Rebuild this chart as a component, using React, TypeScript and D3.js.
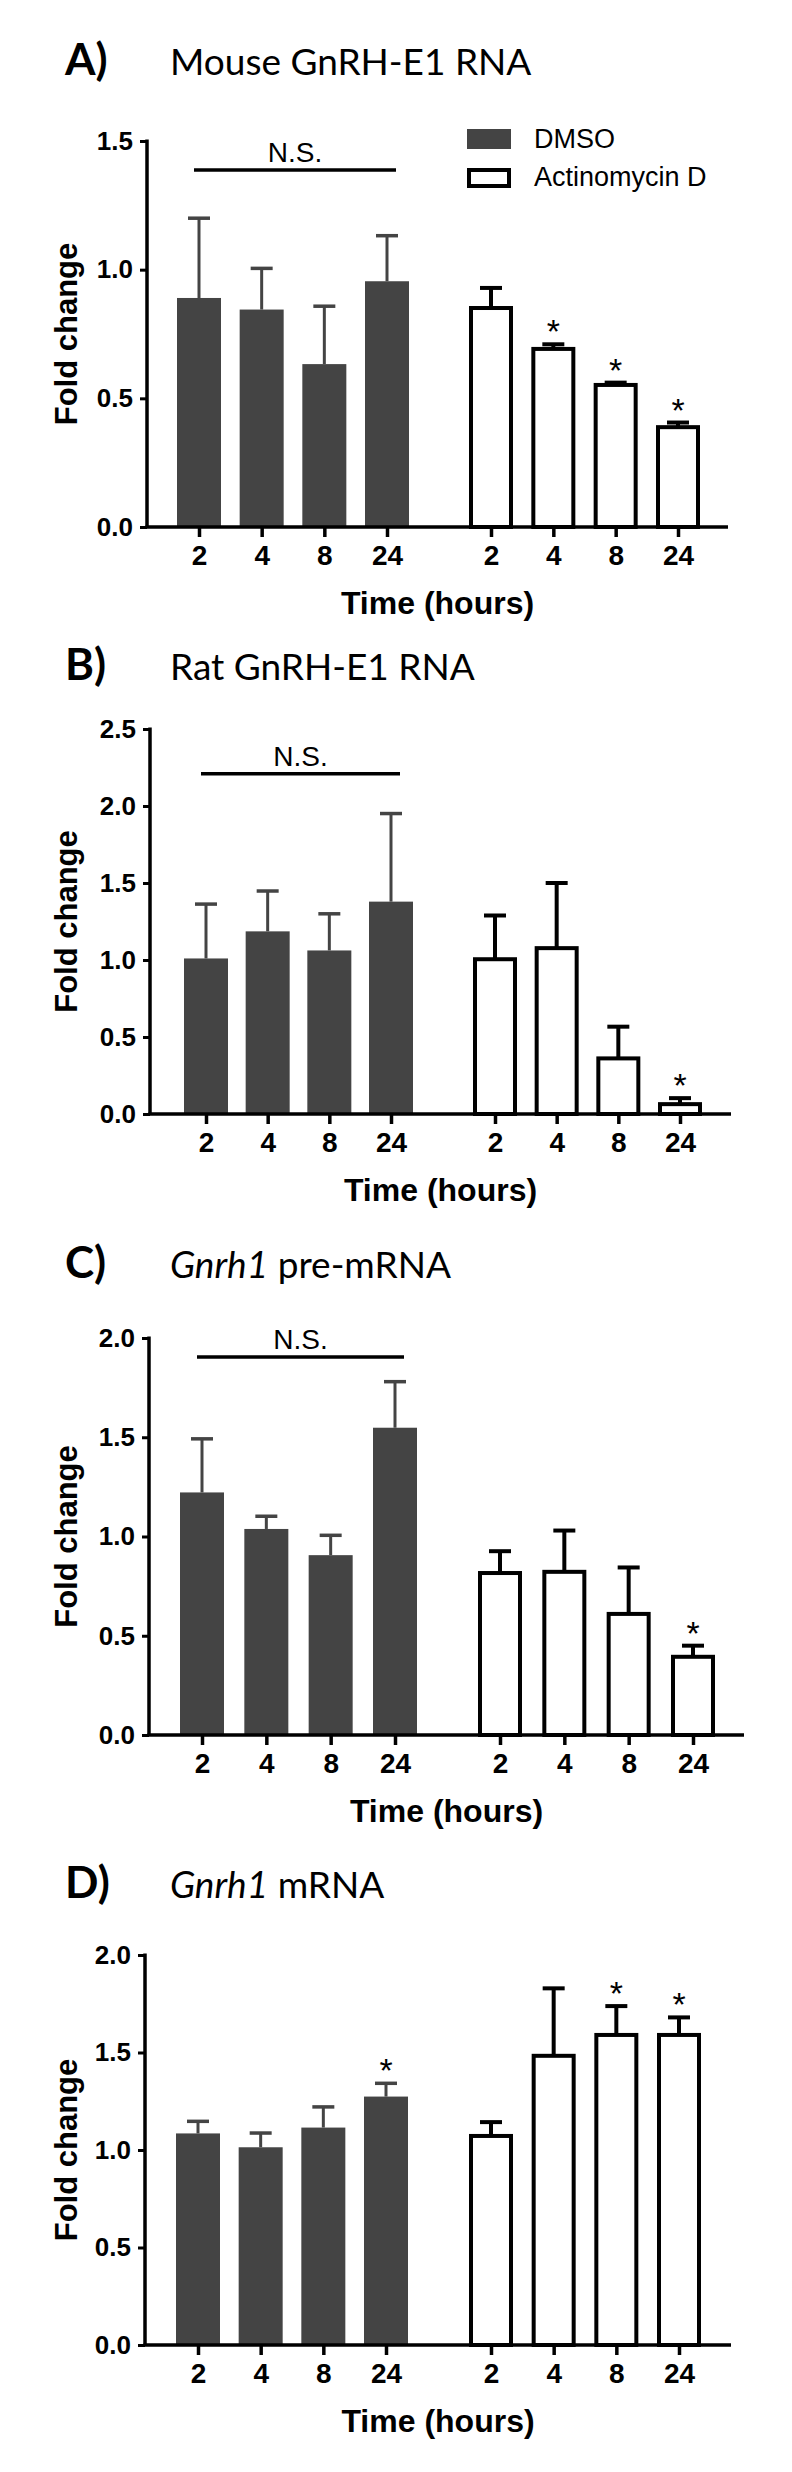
import React, { useEffect, useRef } from "react";
import * as d3 from "d3";

const times = ["2", "4", "8", "24"];

// panel A: Mouse GnRH-E1 RNA
const mouseDmso = [0.89, 0.845, 0.633, 0.955];
const mouseDmsoSem = [0.31, 0.16, 0.225, 0.177];
const mouseActd = [0.851, 0.692, 0.552, 0.388];
const mouseActdSem = [0.078, 0.018, 0.009, 0.018];

// panel B: Rat GnRH-E1 RNA
const ratDmso = [1.01, 1.186, 1.062, 1.379];
const ratDmsoSem = [0.353, 0.262, 0.238, 0.572];
const ratActd = [1.005, 1.077, 0.361, 0.064];
const ratActdSem = [0.284, 0.423, 0.206, 0.039];

// panel C: Gnrh1 pre-mRNA
const preDmso = [1.222, 1.038, 0.906, 1.548];
const preDmsoSem = [0.27, 0.064, 0.1, 0.232];
const preActd = [0.816, 0.822, 0.61, 0.394];
const preActdSem = [0.11, 0.208, 0.234, 0.056];

// panel D: Gnrh1 mRNA
const mDmso = [1.085, 1.014, 1.115, 1.274];
const mDmsoSem = [0.062, 0.073, 0.106, 0.068];
const mActd = [1.072, 1.483, 1.59, 1.59];
const mActdSem = [0.071, 0.346, 0.148, 0.09];

const ticksA = [0, 0.5, 1.0, 1.5];
const ticksB = [0, 0.5, 1.0, 1.5, 2.0, 2.5];
const ticksCD = [0, 0.5, 1.0, 1.5, 2.0];

const seriesNames = ["DMSO", "Actinomycin D"];

const panels = [
  {
    letter: "A)", titleItalic: "", titleRest: "Mouse GnRH-E1 RNA",
    dmso: mouseDmso, dmsoSem: mouseDmsoSem, actd: mouseActd, actdSem: mouseActdSem,
    ticks: ticksA, dmsoStars: [], actdStars: ["4", "8", "24"], ns: 1.387, legend: true,
    titleY: 75, top: 141, bottom: 527, axisX: 147, axisRight: 728,
    g1: [199, 387], g2: [491, 678],
  },
  {
    letter: "B)", titleItalic: "", titleRest: "Rat GnRH-E1 RNA",
    dmso: ratDmso, dmsoSem: ratDmsoSem, actd: ratActd, actdSem: ratActdSem,
    ticks: ticksB, dmsoStars: [], actdStars: ["24"], ns: 2.21, legend: false,
    titleY: 680, top: 729, bottom: 1114, axisX: 150, axisRight: 731,
    g1: [206, 391], g2: [495, 680],
  },
  {
    letter: "C)", titleItalic: "Gnrh1", titleRest: " pre-mRNA",
    dmso: preDmso, dmsoSem: preDmsoSem, actd: preActd, actdSem: preActdSem,
    ticks: ticksCD, dmsoStars: [], actdStars: ["24"], ns: 1.904, legend: false,
    titleY: 1278, top: 1338, bottom: 1735, axisX: 149, axisRight: 744,
    g1: [202, 395], g2: [500, 693],
  },
  {
    letter: "D)", titleItalic: "Gnrh1", titleRest: " mRNA",
    dmso: mDmso, dmsoSem: mDmsoSem, actd: mActd, actdSem: mActdSem,
    ticks: ticksCD, dmsoStars: ["24"], actdStars: ["8", "24"], ns: null, legend: false,
    titleY: 1898, top: 1955, bottom: 2345, axisX: 145, axisRight: 731,
    g1: [198, 386], g2: [491, 679],
  },
];

const GRAY = "#444444";
const AXIS_FONT = "'Liberation Sans', Arial, sans-serif";
const TITLE_FONT = "Lato, 'Open Sans', sans-serif";

const App = () => {
  const ref = useRef<SVGSVGElement>(null);

  useEffect(() => {
    const svg = d3.select(ref.current);
    svg.selectAll("*").remove();
    svg.append("rect").attr("width", 792).attr("height", 2472).attr("fill", "white");

    panels.forEach((p) => {
      const g = svg.append("g");
      const maxV = p.ticks[p.ticks.length - 1];
      const y = d3.scaleLinear().domain([0, maxV]).range([p.bottom, p.top]);
      const x1 = d3.scalePoint().domain(times).range(p.g1);
      const x2 = d3.scalePoint().domain(times).range(p.g2);
      const barW = 44;

      // panel letter and title
      g.append("text")
        .attr("x", 65).attr("y", p.titleY)
        .style("font-family", TITLE_FONT).style("font-weight", "bold")
        .style("font-size", "44px").text(p.letter);
      const t = g.append("text")
        .attr("x", 170).attr("y", p.titleY)
        .style("font-family", TITLE_FONT).style("font-size", "37px");
      if (p.titleItalic) t.append("tspan").style("font-style", "italic").text(p.titleItalic);
      t.append("tspan").text(p.titleRest);

      // y axis
      const yAxis = d3.axisLeft(y).tickValues(p.ticks).tickFormat(d3.format(".1f"))
        .tickSizeOuter(0).tickSize(7).tickPadding(7);
      const ya = g.append("g").attr("transform", `translate(${p.axisX},0)`).call(yAxis);
      ya.select(".domain").remove();
      ya.selectAll("line").attr("stroke", "black").attr("stroke-width", 3);
      ya.selectAll("text")
        .style("font-family", AXIS_FONT).style("font-weight", "bold")
        .style("font-size", "26px").attr("fill", "black");
      g.append("line")
        .attr("x1", p.axisX).attr("x2", p.axisX)
        .attr("y1", y(maxV) - 1.5).attr("y2", p.bottom)
        .attr("stroke", "black").attr("stroke-width", 3.5);

      // x axis (two groups)
      [x1, x2].forEach((xs) => {
        const xAxis = d3.axisBottom(xs).tickSize(10).tickPadding(8);
        const xa = g.append("g").attr("transform", `translate(0,${p.bottom})`).call(xAxis);
        xa.select(".domain").remove();
        xa.selectAll("line").attr("stroke", "black").attr("stroke-width", 3.5);
        xa.selectAll("text")
          .style("font-family", AXIS_FONT).style("font-weight", "bold")
          .style("font-size", "28px").attr("fill", "black");
      });

      // bars DMSO
      times.forEach((tm, i) => {
        const cx = x1(tm) as number;
        const top = y(p.dmso[i] + p.dmsoSem[i]);
        g.append("line").attr("x1", cx).attr("x2", cx)
          .attr("y1", y(p.dmso[i])).attr("y2", top)
          .attr("stroke", GRAY).attr("stroke-width", 3);
        g.append("line").attr("x1", cx - 11).attr("x2", cx + 11)
          .attr("y1", top).attr("y2", top)
          .attr("stroke", GRAY).attr("stroke-width", 3.5);
        g.append("rect")
          .attr("x", cx - barW / 2).attr("width", barW)
          .attr("y", y(p.dmso[i])).attr("height", p.bottom - y(p.dmso[i]))
          .attr("fill", GRAY);
        if (p.dmsoStars.includes(tm)) {
          g.append("text").attr("x", cx).attr("y", top - 1)
            .attr("text-anchor", "middle")
            .style("font-family", AXIS_FONT).style("font-size", "34px").text("*");
        }
      });

      // bars Actinomycin D
      times.forEach((tm, i) => {
        const cx = x2(tm) as number;
        const top = y(p.actd[i] + p.actdSem[i]);
        g.append("line").attr("x1", cx).attr("x2", cx)
          .attr("y1", y(p.actd[i])).attr("y2", top)
          .attr("stroke", "black").attr("stroke-width", 4);
        g.append("line").attr("x1", cx - 11).attr("x2", cx + 11)
          .attr("y1", top).attr("y2", top)
          .attr("stroke", "black").attr("stroke-width", 4);
        g.append("rect")
          .attr("x", cx - barW / 2 + 2).attr("width", barW - 4)
          .attr("y", y(p.actd[i])).attr("height", p.bottom - y(p.actd[i]))
          .attr("fill", "white").attr("stroke", "black").attr("stroke-width", 4);
        if (p.actdStars.includes(tm)) {
          g.append("text").attr("x", cx).attr("y", top - 1)
            .attr("text-anchor", "middle")
            .style("font-family", AXIS_FONT).style("font-size", "34px").text("*");
        }
      });

      // x axis baseline
      g.append("line")
        .attr("x1", p.axisX - 1.5).attr("x2", p.axisRight)
        .attr("y1", p.bottom).attr("y2", p.bottom)
        .attr("stroke", "black").attr("stroke-width", 3.5);

      // N.S. bracket
      if (p.ns !== null) {
        const ny = y(p.ns);
        const xa = (x1(times[0]) as number) - 5;
        const xb = (x1(times[3]) as number) + 9;
        g.append("line").attr("x1", xa).attr("x2", xb)
          .attr("y1", ny).attr("y2", ny)
          .attr("stroke", "black").attr("stroke-width", 3.5);
        g.append("text").attr("x", (xa + xb) / 2).attr("y", ny - 8)
          .attr("text-anchor", "middle")
          .style("font-family", AXIS_FONT).style("font-size", "28px").text("N.S.");
      }

      // axis titles
      g.append("text")
        .attr("transform", `translate(77,${(p.top + p.bottom) / 2}) rotate(-90)`)
        .attr("text-anchor", "middle")
        .style("font-family", AXIS_FONT).style("font-weight", "bold")
        .style("font-size", "31px").text("Fold change");
      g.append("text")
        .attr("x", (p.axisX + p.axisRight) / 2).attr("y", p.bottom + 87)
        .attr("text-anchor", "middle")
        .style("font-family", AXIS_FONT).style("font-weight", "bold")
        .style("font-size", "32px").text("Time (hours)");

      // legend
      if (p.legend) {
        const lg = g.append("g").attr("transform", "translate(467,129)");
        lg.append("rect").attr("x", 0).attr("y", 0).attr("width", 44).attr("height", 20)
          .attr("fill", GRAY);
        lg.append("rect").attr("x", 2).attr("y", 41).attr("width", 40).attr("height", 16)
          .attr("fill", "white").attr("stroke", "black").attr("stroke-width", 4);
        seriesNames.forEach((nm, i) => {
          lg.append("text").attr("x", 67).attr("y", 19 + i * 38)
            .style("font-family", AXIS_FONT).style("font-size", "27px").text(nm);
        });
      }
    });
  }, []);

  return (
    <svg
      ref={ref}
      width={792}
      height={2472}
      style={{ position: "absolute", left: 0, top: 0 }}
    />
  );
};

export default App;
